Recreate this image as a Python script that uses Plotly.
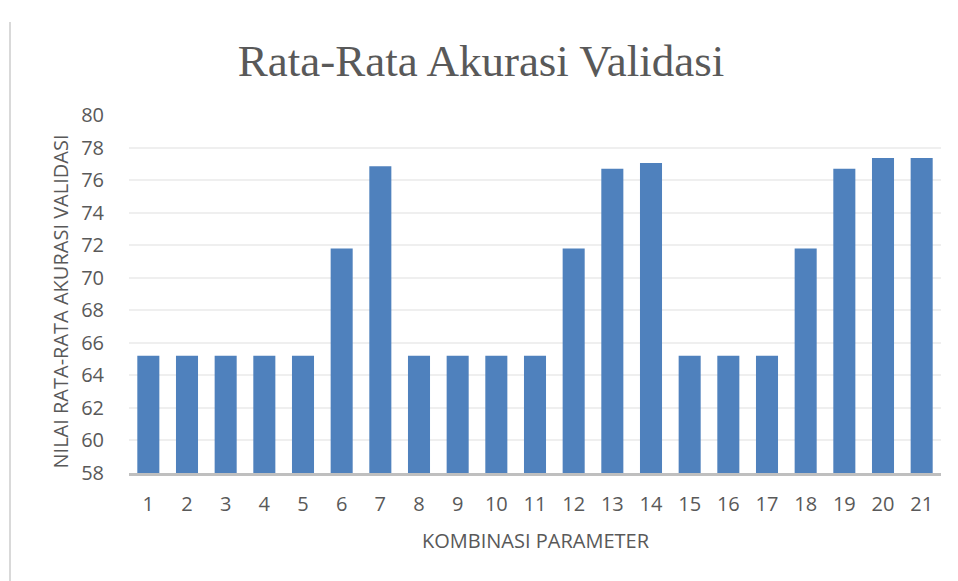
import plotly.graph_objects as go

categories = [str(i) for i in range(1, 22)]
values = [65.2, 65.2, 65.2, 65.2, 65.2, 71.8, 76.85, 65.2, 65.2, 65.2, 65.2,
          71.8, 76.7, 77.05, 65.2, 65.2, 65.2, 71.8, 76.7, 77.35, 77.35]
y_ticks = list(range(58, 81, 2))

title_text = "Rata-Rata Akurasi Validasi"
x_title = "KOMBINASI PARAMETER"
y_title = "NILAI RATA-RATA AKURASI VALIDASI"

# page body has an 8px default margin; figure is sized to fit the window
OFF = 8
W, H = 958 - OFF, 581 - OFF
L, R, T, B = 129 - OFF, 17, 115 - OFF, H - (473 - OFF)
pw = W - L - R
ph = H - T - B

fig = go.Figure(go.Bar(x=categories, y=values, marker=dict(color="#4F81BD", line=dict(width=0)),
                       width=0.57))

font_family = "Open Sans, sans-serif"
text_color = "#595959"
fig.update_layout(
    width=W, height=H,
    margin=dict(l=L, r=R, t=T, b=B),
    paper_bgcolor="white", plot_bgcolor="white",
    showlegend=False,
    font=dict(family=font_family, color=text_color, size=20),
    title=dict(text=title_text, x=(481 - OFF) / W, xref="container", xanchor="center",
               y=1 - (60 - OFF) / H, yref="container", yanchor="middle",
               font=dict(size=45, family="Liberation Serif, serif", color=text_color)),
)
fig.update_xaxes(type="category", showgrid=False, showline=True, linecolor="#BFBFBF", linewidth=2.5,
                 ticks="", ticklabelstandoff=11, tickfont=dict(size=20, color=text_color))
fig.update_yaxes(range=[58, 80], tickvals=y_ticks, showgrid=True, gridcolor="#EFEFEF", gridwidth=1.5,
                 zeroline=False, showline=False, ticks="", ticklabelstandoff=24,
                 tickfont=dict(size=20, color=text_color))

fig.add_annotation(text=x_title, xref="paper", yref="paper", x=(536 - 129) / pw,
                   y=-(540 - 473) / ph,
                   showarrow=False, xanchor="center", yanchor="middle",
                   font=dict(size=20, color=text_color, family=font_family))
fig.add_annotation(text=y_title, xref="paper", yref="paper", x=-(129 - 59.5) / pw,
                   y=(473 - 302) / ph,
                   showarrow=False, xanchor="center", yanchor="middle", textangle=-90,
                   font=dict(size=20, color=text_color, family=font_family))

# left chart border
fig.add_shape(type="line", xref="paper", yref="paper",
              x0=-(129 - 10) / pw, x1=-(129 - 10) / pw, y0=1 + (115 - 22) / ph, y1=-(B + 5) / ph,
              line=dict(color="#D9D9D9", width=2))

fig.write_html("out.html")
